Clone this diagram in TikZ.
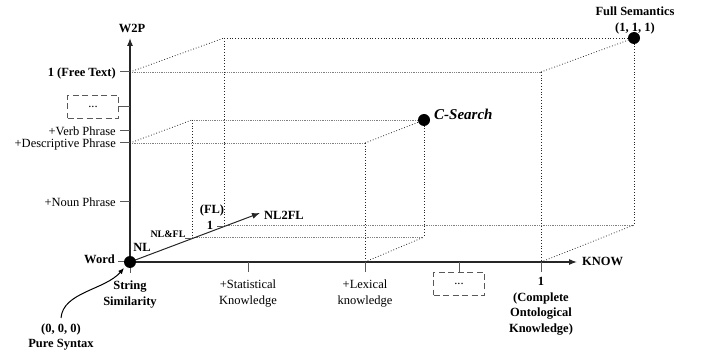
\documentclass[tikz,border=0pt]{standalone}
\usepackage{fontspec}
\setmainfont{Liberation Serif}
\usetikzlibrary{arrows.meta}
\begin{document}
\begin{tikzpicture}[x=1pt,y=-1pt,
  axis/.style={draw=black!85, line width=1.1pt},
  tickline/.style={draw=black!65, line width=1pt},
  dline/.style={draw=black!85, dotted, line width=0.8pt},
  gline/.style={draw=black!50, densely dotted, line width=0.8pt},
  dot/.style={circle, fill=black, inner sep=0pt, minimum size=12pt},
  lab/.style={font=\fontsize{12.5}{15.5}\selectfont, inner sep=1pt},
  blab/.style={font=\fontsize{12.5}{15.5}\selectfont\bfseries, inner sep=1pt},
  mlab/.style={align=center, inner sep=0pt, anchor=north},
  dbox/.style={draw=black!65, dash pattern=on 6pt off 3.5pt, line width=1.1pt,
    minimum width=51pt, minimum height=23pt, inner sep=0pt,
    font=\fontsize{12.5}{15}\selectfont}
]
\useasboundingbox (0,0) rectangle (702,358);

% ---------- coordinates ----------
\coordinate (O) at (130,262);
\coordinate (Ytip) at (130,38);
\coordinate (Xtip) at (577,262);
\coordinate (Ztip) at (260,213);
% inner box
\coordinate (iA) at (130,143);
\coordinate (iB) at (365,143);
\coordinate (iC) at (365,262);
\coordinate (iA2) at (192,120);
\coordinate (iB2) at (424,120);
\coordinate (iC2) at (424,237);
\coordinate (iD2) at (192,237);
% outer box
\coordinate (oA) at (130,72);
\coordinate (oB) at (541,72);
\coordinate (oC) at (541,262);
\coordinate (oA2) at (224,38);
\coordinate (oB2) at (634,38);
\coordinate (oC2) at (634,225);
\coordinate (oD2) at (224,225);

% ---------- dotted boxes ----------
\draw[gline] (iA) -- (iB);
\draw[dline] (iB) -- (iC);
\draw[dline] (iA) -- (iA2);
\draw[gline] (iA2) -- (iB2);
\draw[dline] (iB) -- (iB2);
\draw[dline] (iA2) -- (iD2);
\draw[gline] (iD2) -- (iC2);
\draw[dline] (iB2) -- (iC2);
\draw[dline] (iC) -- (iC2);

\draw[gline] (oA) -- (oB);
\draw[dline] (oB) -- (oC);
\draw[dline] (oA) -- (oA2);
\draw[dline] (oA2) -- (oB2);
\draw[dline] (oB) -- (oB2);
\draw[dline] (oA2) -- (oD2);
\draw[gline] (oD2) -- (oC2);
\draw[dline] (oB2) -- (oC2);
\draw[dline] (oC) -- (oC2);

% ---------- axes ----------
\draw[axis, -{Latex[length=8pt,width=6pt]}] (O) -- (Ytip);
\draw[axis, -{Latex[length=8pt,width=6pt]}] (O) -- (Xtip);
\draw[axis, line width=1pt, -{Latex[length=8pt,width=6pt]}] (O) -- (Ztip);

% ---------- W2P ticks and labels ----------
\coordinate (t1) at (130,72);
\coordinate (t2) at (130,107);
\coordinate (t3) at (130,131);
\coordinate (t4) at (130,143);
\coordinate (t5) at (130,202);
\coordinate (t6) at (130,262);
\draw[tickline] (t1) -- ++(-10,0);
\draw[tickline] (t3) -- ++(-10,0);
\draw[tickline] (t4) -- ++(-10,0);
\draw[tickline] (t5) -- ++(-10,0);
\draw[tickline] (t6) -- ++(-12,0);
\node[dbox] (lbox) at (93,107) {...};
\draw[tickline] (lbox.east) -- (t2);

\node[blab, anchor=base east] (lfree) at (117,76.2) {1 (Free Text)};
\node[lab, anchor=base east] (lverb) at (117,135.2) {+Verb Phrase};
\node[lab, anchor=base east] (ldesc) at (117,147.2) {+Descriptive Phrase};
\node[lab, anchor=base east] (lnoun) at (117,206.2) {+Noun Phrase};
\node[blab, anchor=base east] (lword) at (116,263.2) {Word};
\node[blab] (w2p) at (132,28) {W2P};

% ---------- KNOW ticks and labels ----------
\coordinate (k1) at (130,262);
\coordinate (k2) at (248,262);
\coordinate (k3) at (365,262);
\coordinate (k4) at (459,262);
\coordinate (k5) at (541,262);
\draw[tickline] (k1) -- ++(0,11);
\draw[tickline] (k2) -- ++(0,10);
\draw[tickline] (k3) -- ++(0,10);
\draw[tickline] (k5) -- ++(0,10);
\node[dbox] (kbox) at (459,284) {...};
\draw[tickline] (k4) -- (kbox.north);

\node[blab, mlab, font=\fontsize{12.5}{16}\selectfont\bfseries] (lstring) at (130,280.5) {String\\Similarity};
\node[lab, mlab, font=\fontsize{12.5}{16.5}\selectfont] (lstat) at (248,279.5) {+Statistical\\Knowledge};
\node[lab, mlab, font=\fontsize{12.5}{16.5}\selectfont] (llex) at (365,279.5) {+Lexical\\knowledge};
\node[blab, mlab, font=\fontsize{12.5}{15.5}\selectfont\bfseries] (lcomplete) at (541,277.5) {1\\(Complete\\Ontological\\Knowledge)};
\node[blab, anchor=west] (know) at (581,261) {KNOW};

% ---------- NL2FL axis ----------
\coordinate (z1) at (192,238);
\coordinate (z2) at (224,226);
\draw[tickline, line width=0.8pt] (z1) -- ++(-7,0);
\draw[tickline, line width=0.8pt] (z2) -- ++(-7,0);
\node[font=\fontsize{10}{12}\selectfont\bfseries, inner sep=0pt] (lnlfl) at (168,234) {NL\&FL};
\node[blab] (lfl) at (212,210) {(FL)};
\node[blab] (lone) at (210,225) {1};
\node[blab] (lnl) at (142,247) {NL};
\node[blab, anchor=west] (nl2fl) at (263,215) {NL2FL};

% ---------- points ----------
\node[dot] (origin) at (O) {};
\node[dot] (csearch) at (iB2) {};
\node[dot] (full) at (oB2) {};
\node[font=\fontsize{15}{18}\selectfont\bfseries\itshape, anchor=west, inner sep=0pt] (lcs) at (434,114) {C-Search};
\node[blab, mlab, font=\fontsize{12.5}{16}\selectfont\bfseries] (lfull) at (635,6.5) {Full Semantics\\(1, 1, 1)};

% ---------- pure syntax ----------
\node[blab, mlab, font=\fontsize{12.5}{15.5}\selectfont\bfseries] (lpure) at (61,323.5) {(0, 0, 0)\\Pure Syntax};
\coordinate (cs) at (61,318);
\coordinate (ce) at (124,268);
\draw[line width=1pt, -{Latex[length=6pt,width=5pt]}] (cs) .. controls (63,292) and (105,290) .. (ce);
\end{tikzpicture}
\end{document}
